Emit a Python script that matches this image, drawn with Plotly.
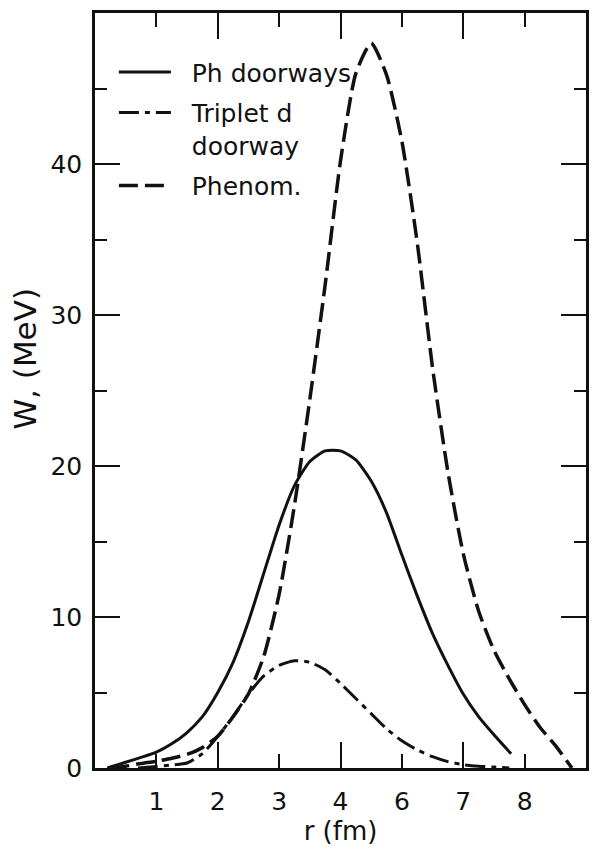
import plotly.graph_objects as go

# Radial profiles of the imaginary potential W(r), r in axis units
r_ph = [0.2, 0.5, 0.75, 1.0, 1.25, 1.5, 1.75, 2.0, 2.25, 2.5, 2.75, 3.0, 3.25, 3.5,
        3.75, 4.0, 4.25, 4.5, 4.75, 5.0, 5.25, 5.5, 5.75, 6.0, 6.25, 6.5, 6.78]
w_ph = [0.0, 0.38, 0.7, 1.05, 1.6, 2.35, 3.4, 5.0, 7.0, 9.7, 12.9, 16.1, 18.7, 20.3,
        21.0, 21.0, 20.4, 19.0, 16.9, 14.1, 11.4, 8.9, 6.8, 4.9, 3.4, 2.2, 0.94]

r_trip = [0.7, 1.0, 1.25, 1.5, 1.75, 2.0, 2.25, 2.5, 2.75, 3.0, 3.25, 3.5, 3.75, 4.0,
          4.25, 4.5, 4.75, 5.0, 5.25, 5.5, 5.75, 6.0, 6.25, 6.5, 6.75]
w_trip = [0.0, 0.1, 0.2, 0.33, 0.95, 2.1, 3.4, 4.9, 6.1, 6.8, 7.1, 7.0, 6.5, 5.6,
          4.6, 3.6, 2.6, 1.8, 1.2, 0.75, 0.42, 0.22, 0.12, 0.06, 0.0]

r_phen = [0.25, 0.5, 0.75, 1.0, 1.25, 1.5, 1.75, 2.0, 2.25, 2.5, 2.75, 3.0, 3.25, 3.5,
          3.75, 4.0, 4.25, 4.5, 4.75, 5.0, 5.25, 5.5, 5.75, 6.0, 6.25, 6.5, 6.75,
          7.0, 7.25, 7.5, 7.77]
w_phen = [0.0, 0.12, 0.3, 0.45, 0.65, 0.9, 1.35, 2.1, 3.4, 4.9, 7.4, 11.5, 17.4, 24.4,
          32.0, 40.2, 46.0, 48.0, 45.9, 41.5, 34.8, 26.5, 19.6, 14.2, 10.4, 7.8, 5.9,
          4.2, 2.7, 1.5, 0.0]

# Axis ticks (the printed r labels skip "5")
x_tick_pos = [1, 2, 3, 4, 5, 6, 7]
x_tick_text = ["1", "2", "3", "4", "6", "7", "8"]
x_long_ticks = [2, 4, 6]
y_major = [0, 10, 20, 30, 40]
y_minor = [5, 15, 25, 35, 45]

FONT = "DejaVu Sans"
INK = "#111111"
NB = "\u00a0\u00a0"

fig = go.Figure()
fig.add_trace(go.Scatter(
    x=r_ph, y=w_ph, mode="lines", name=NB + "Ph doorways",
    line=dict(color=INK, width=3, shape="spline", smoothing=0.6),
    legendgroup="a"))
fig.add_trace(go.Scatter(
    x=r_trip, y=w_trip, mode="lines", name=NB + "Triplet d<br>" + NB + "doorway",
    line=dict(color=INK, width=3, dash="20px,6px,5px,6px", shape="spline", smoothing=0.6),
    legendgroup="b", xaxis="x2"))
fig.add_trace(go.Scatter(
    x=r_phen, y=w_phen, mode="lines", name=NB + "Phenom.",
    line=dict(color=INK, width=3.5, dash="19px,7px", shape="spline", smoothing=0.6),
    legendgroup="c"))

fig.update_layout(
    width=592, height=853,
    margin=dict(l=95, r=3, t=13, b=85),
    paper_bgcolor="white", plot_bgcolor="white",
    font=dict(family=FONT, size=25, color=INK),
    showlegend=True,
    legend=dict(x=0.0385, y=0.952, xanchor="left", yanchor="top",
                bgcolor="rgba(0,0,0,0)", valign="top", tracegroupgap=5,
                itemwidth=52,
                font=dict(family=FONT, size=25, color=INK)),
    xaxis=dict(range=[0, 8], tickmode="array", tickvals=x_tick_pos, ticktext=x_tick_text,
               ticks="inside", ticklen=14, tickwidth=2, tickcolor=INK,
               showline=True, linewidth=2.5, linecolor=INK, mirror="ticks",
               showgrid=False, zeroline=False, ticklabelstandoff=9,
               tickfont=dict(size=25),
               title=dict(text="r (fm)", standoff=8, font=dict(size=26))),
    xaxis2=dict(matches="x", overlaying="x", side="bottom", anchor="y",
                tickmode="array", tickvals=x_long_ticks, showticklabels=False,
                ticks="inside", ticklen=26, tickwidth=2, tickcolor=INK,
                showline=False, mirror="ticks", showgrid=False, zeroline=False),
    yaxis=dict(range=[0, 50], tickmode="array", tickvals=y_major,
               ticks="inside", ticklen=25, tickwidth=2, tickcolor=INK,
               minor=dict(tickmode="array", tickvals=y_minor, ticks="inside",
                          ticklen=12, tickwidth=2, tickcolor=INK),
               showline=True, linewidth=2.5, linecolor=INK, mirror="ticks",
               showgrid=False, zeroline=False, ticklabelstandoff=5,
               tickfont=dict(size=25)),
    annotations=[dict(text="W, (MeV)", textangle=-90, xref="paper", yref="paper",
                      x=-0.143, y=0.542, xanchor="center", yanchor="middle",
                      showarrow=False, font=dict(family=FONT, size=31, color=INK))],
)

fig.write_html("out.html")
